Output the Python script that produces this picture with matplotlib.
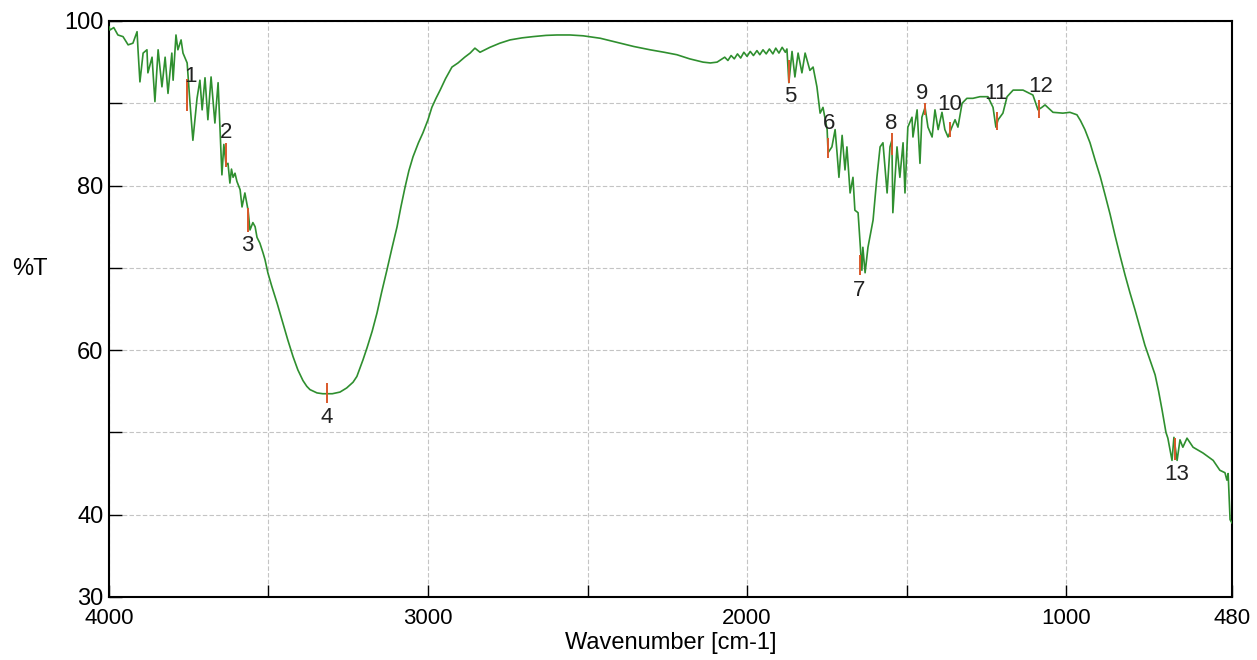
import matplotlib
matplotlib.use("Agg")
import matplotlib.pyplot as plt

plt.rcParams['font.family'] = ['Liberation Sans', 'DejaVu Sans']

# IR spectrum (wavenumber cm-1, %T)
wavenumber = [
    4000, 3997, 3985, 3972, 3956, 3940, 3925, 3912, 3909, 3903, 3893, 3881, 3878, 3865,
    3856, 3846, 3834, 3824, 3815, 3803, 3799, 3790, 3784, 3774, 3768, 3755, 3746, 3737,
    3724, 3715, 3708, 3699, 3690, 3680, 3668, 3658, 3652, 3646, 3640, 3633, 3627, 3621,
    3616, 3611, 3605, 3599, 3589, 3583, 3574, 3564, 3558, 3549, 3542, 3536, 3527, 3517,
    3511, 3502, 3490, 3473, 3455, 3440, 3423, 3408, 3392, 3380, 3370, 3348, 3330, 3317,
    3300, 3276, 3255, 3235, 3223, 3204, 3191, 3175, 3160, 3145, 3129, 3113, 3097, 3085,
    3072, 3060, 3047, 3030, 3016, 3000, 2988, 2975, 2962, 2945, 2925, 2906, 2885, 2868,
    2853, 2837, 2806, 2775, 2743, 2705, 2671, 2630, 2596, 2555, 2514, 2460, 2408, 2355,
    2304, 2260, 2220, 2180, 2138, 2115, 2094, 2070, 2060, 2050, 2040,
    2030, 2020, 2010, 2000, 1990, 1980, 1969, 1960, 1950, 1940, 1930, 1919, 1910, 1900,
    1890, 1880, 1875, 1869, 1859, 1850, 1840, 1828, 1818, 1803, 1793, 1781, 1771, 1762,
    1749, 1746, 1734, 1724, 1718, 1712, 1702, 1693, 1687, 1677, 1668, 1662, 1652, 1640,
    1637, 1630, 1621, 1605, 1593, 1583, 1574, 1561, 1552, 1546, 1543, 1530, 1521, 1511,
    1505, 1496, 1483, 1480, 1467, 1458, 1452, 1442, 1433, 1420, 1411, 1401, 1389, 1380,
    1370, 1358, 1348, 1339, 1326, 1311, 1292, 1270, 1245, 1229, 1220, 1213, 1198, 1185,
    1166, 1135, 1104, 1088, 1076, 1066, 1041, 1010, 988, 966, 955, 941, 925, 909,
    893, 878, 862, 847, 831, 815, 800, 784, 768, 753, 737, 721, 710, 699,
    687, 681, 668, 662, 652, 643, 634, 621, 602,
    571, 539, 518, 502, 496, 492, 486, 480,
]
transmittance = [
    99.3, 98.9, 99.2, 98.3, 98.1, 97.1, 97.3, 98.7, 96.5, 92.6, 96.1, 96.5, 93.7, 95.6,
    90.2, 96.5, 92.0, 95.6, 91.2, 96.1, 92.8, 98.3, 96.5, 97.7, 96.1, 94.9, 90.0, 85.5,
    90.6, 92.8, 89.2, 93.1, 88.0, 93.2, 87.6, 92.5, 86.8, 81.3, 85.0, 82.5, 82.7, 80.3,
    82.0, 81.0, 81.5, 80.5, 79.5, 77.4, 79.1, 77.0, 74.6, 75.5, 75.0, 73.7, 73.0, 71.8,
    71.0, 69.4, 67.8, 65.7, 63.3, 61.3, 59.2, 57.6, 56.3, 55.6, 55.2, 54.8, 54.7, 54.7,
    54.7, 54.9, 55.4, 56.1, 56.8, 58.8, 60.3, 62.3, 64.5, 67.1, 69.7, 72.4, 75.0, 77.4,
    79.8, 81.8, 83.5, 85.2, 86.4, 88.0, 89.5, 90.6, 91.6, 93.0, 94.4, 94.9, 95.6, 96.1,
    96.7, 96.2, 96.8, 97.3, 97.7, 97.95, 98.1, 98.25, 98.3, 98.3, 98.2, 97.9, 97.4, 96.9,
    96.5, 96.2, 95.9, 95.4, 95.0, 94.9, 95.0, 95.6, 95.2, 95.8, 95.4,
    96.0, 95.5, 96.2, 95.7, 96.3, 95.8, 96.4, 95.9, 96.5, 96.0, 96.6, 96.0, 96.7, 96.1,
    96.8, 96.2, 96.6, 92.5, 96.3, 93.2, 96.1, 93.7, 96.1, 94.0, 94.4, 92.0, 88.8, 89.5,
    86.8, 84.0, 84.7, 86.8, 84.0, 81.0, 86.1, 81.9, 84.7, 79.1, 81.0, 77.0, 76.7, 69.7,
    72.5, 69.4, 72.5, 75.8, 81.0, 84.7, 85.2, 79.1, 84.7, 85.5, 76.7, 84.7, 81.0, 85.2,
    79.1, 87.1, 88.3, 85.9, 89.2, 82.7, 88.3, 89.5, 87.1, 85.9, 89.2, 86.8, 88.9, 86.8,
    85.9, 87.1, 88.0, 87.1, 90.0, 90.6, 90.6, 90.8, 90.8, 89.5, 87.1, 88.0, 88.8, 90.8,
    91.6, 91.6, 91.0, 89.2, 89.5, 89.8, 88.9, 88.8, 88.9, 88.6, 87.9, 86.8, 85.2, 83.1,
    81.1, 78.9, 76.5, 74.0, 71.5, 69.1, 67.0, 64.9, 62.7, 60.6, 58.8, 57.0, 55.0, 52.7,
    50.0, 49.3, 46.6, 49.4, 46.6, 49.1, 48.2, 49.3, 48.2,
    47.5, 46.6, 45.4, 45.1, 44.2, 45.0, 39.4, 39.0,
]

# picked peaks: position, marker span and label position
peak_labels = ['1', '2', '3', '4', '5', '6', '7', '8', '9', '10', '11', '12', '13']
peak_wn = [3754, 3633, 3564, 3317, 1869, 1746, 1646, 1546, 1442, 1364, 1218, 1085, 659]
peak_top = [93.0, 85.2, 77.3, 56.0, 95.3, 85.8, 71.6, 86.4, 90.0, 87.7, 88.9, 90.4, 49.3]
peak_bottom = [89.0, 82.3, 74.4, 53.6, 92.5, 83.4, 69.1, 83.7, 88.6, 85.9, 86.8, 88.2, 46.6]
label_wn = [3746, 3633, 3567, 3317, 1866, 1743, 1649, 1549, 1452, 1364, 1220, 1079, 652]
label_t = [93.2, 86.4, 72.7, 51.8, 90.8, 87.6, 67.3, 87.6, 91.2, 89.9, 91.2, 92.0, 44.9]

fig = plt.figure(figsize=(12.57, 6.6), dpi=100)
ax = fig.add_axes([0.0867, 0.0955, 0.8934, 0.8727])

ax.plot(wavenumber, transmittance, color='#2f8f2f', lw=1.2, zorder=3)
ax.vlines(peak_wn, peak_bottom, peak_top, color='#d9582a', lw=1.4, zorder=4)
for lab, x, y in zip(peak_labels, label_wn, label_t):
    ax.text(x, y, lab, fontsize=16, ha='center', va='center', color='#222222', zorder=5)

ax.set_xlim(4000, 480)
ax.set_ylim(30, 100)
ax.set_xticks([4000, 3000, 2000, 1000, 480])
ax.set_xticks([3500, 2500, 1500], minor=True)
ax.set_yticks([30, 40, 60, 80, 100])
ax.set_yticks([50, 70, 90], minor=True)
ax.tick_params(which='both', direction='in', length=9, width=1)
ax.tick_params(axis='y', labelsize=17, pad=4)
ax.tick_params(axis='x', labelsize=16, pad=8)
ax.grid(which='both', color='#c4c4c4', lw=0.8, linestyle=(0, (4, 2)), zorder=1)
for s in ax.spines.values():
    s.set_linewidth(1.5)

ax.set_xlabel('Wavenumber [cm-1]', fontsize=17, labelpad=2)
ax.set_ylabel('%T', fontsize=17, rotation=0)
ax.yaxis.set_label_coords(-0.070, 0.55)

fig.savefig('out.png', dpi=100)
